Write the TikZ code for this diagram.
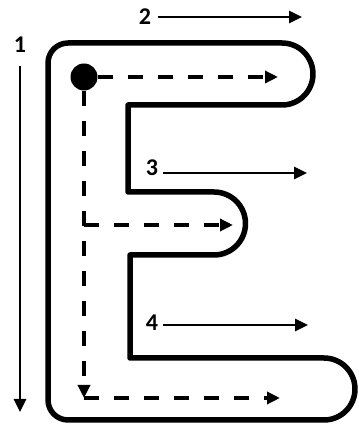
\documentclass[tikz,border=0pt]{standalone}
\usepackage{fontspec}
\setmainfont{Carlito}
\usetikzlibrary{arrows.meta}
\begin{document}
\begin{tikzpicture}[x=1pt,y=1pt,
    outline/.style={line width=5.5pt,line join=round},
    trace/.style={line width=3.5pt,dash pattern=on 15pt off 15pt,-{Triangle[length=13pt,width=12pt]}},
    guide/.style={line width=2.8pt,-{Triangle[length=13pt,width=12pt]}},
    num/.style={font=\fontsize{24}{24}\selectfont\bfseries,inner sep=0pt}]
  \useasboundingbox (0,0) rectangle (359,429);
  % letter outline
  \draw[outline] (48,29) -- (48,366) arc[start angle=180,end angle=90,radius=20]
    -- (282,386) arc[start angle=90,end angle=-90,radius=31] -- (128,324) -- (128,237)
    -- (214,237) arc[start angle=90,end angle=-90,radius=31.5] -- (130,174) -- (130,71)
    -- (324,71) arc[start angle=90,end angle=-90,radius=31] -- (68,9)
    arc[start angle=270,end angle=180,radius=20] -- cycle;
  % numbered strokes
  \node[num] (lab1) at (20,384) {1};
  \node[num] (lab2) at (145,412) {2};
  \node[num] (lab3) at (152,261) {3};
  \node[num] (lab4) at (152,106) {4};
  \coordinate (end1) at (20,17);
  \coordinate (end2) at (302,412);
  \coordinate (end3) at (307,256);
  \coordinate (end4) at (308,104);
  \draw[guide,shorten <=13pt] (lab1.south) -- (end1);
  \draw[guide,shorten <=7pt] (lab2.east) -- (end2);
  \draw[guide,shorten <=5pt] (lab3.east |- end3) -- (end3);
  \draw[guide,shorten <=5pt] (lab4.east |- end4) -- (end4);
  % tracing path
  \node[circle,fill,minimum size=27pt,inner sep=0pt] (dot) at (84,352) {};
  \coordinate (fork) at (84,204);
  \coordinate (corner) at (84,31);
  \coordinate (tip1) at (278,352);
  \coordinate (tip2) at (233,204);
  \coordinate (tip3) at (280,31);
  \draw[trace] (dot) -- (tip1);
  \draw[trace] (dot) -- (corner);
  \draw[trace] (fork) -- (tip2);
  \draw[trace] (corner) -- (tip3);
\end{tikzpicture}
\end{document}
